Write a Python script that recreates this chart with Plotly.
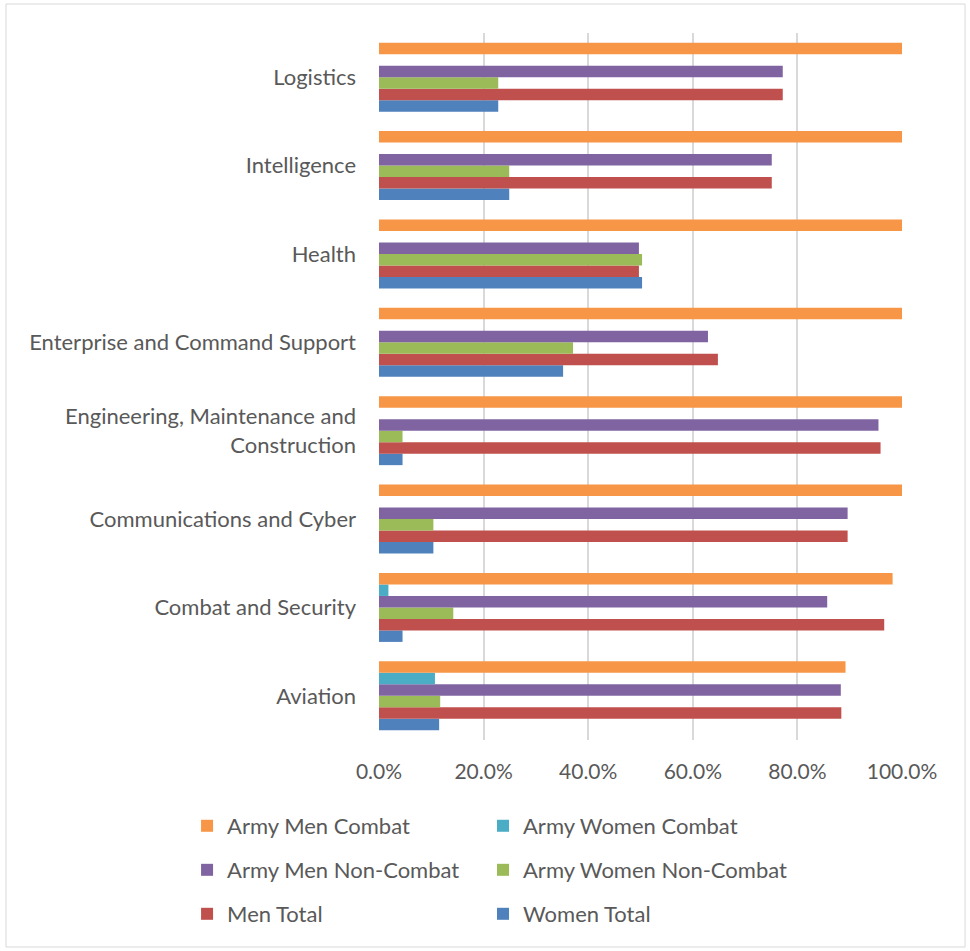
import plotly.graph_objects as go

categories = ["Aviation", "Combat and Security", "Communications and Cyber",
              "Engineering, Maintenance and<br>Construction", "Enterprise and Command Support",
              "Health", "Intelligence", "Logistics"]

women_total = [11.5, 4.5, 10.4, 4.5, 35.2, 50.3, 24.9, 22.8]
men_total = [88.4, 96.6, 89.6, 95.9, 64.8, 49.7, 75.1, 77.2]
army_women_noncombat = [11.7, 14.2, 10.4, 4.5, 37.1, 50.3, 24.9, 22.8]
army_men_noncombat = [88.3, 85.7, 89.6, 95.5, 62.9, 49.7, 75.1, 77.2]
army_women_combat = [10.7, 1.8, 0, 0, 0, 0, 0, 0]
army_men_combat = [89.2, 98.2, 100, 100, 100, 100, 100, 100]

x_ticks = [0, 20, 40, 60, 80, 100]

# (name, values, color, legend id, legend x, legend y)
series = [
    ("Women Total", women_total, "#4F81BD", "legend6", 0.1989, -0.2461),
    ("Men Total", men_total, "#C0504D", "legend5", -0.367, -0.2461),
    ("Army Women Non-Combat", army_women_noncombat, "#9BBB59", "legend4", 0.1989, -0.1839),
    ("Army Men Non-Combat", army_men_noncombat, "#8064A2", "legend3", -0.367, -0.1839),
    ("Army Women Combat", army_women_combat, "#4BACC6", "legend2", 0.1989, -0.1216),
    ("Army Men Combat", army_men_combat, "#F79646", "legend", -0.367, -0.1216),
]

FONT = "Lato"
GREY = "#595959"

fig = go.Figure()
legends = {}
for name, vals, color, lg, lx, ly in series:
    fig.add_trace(go.Bar(
        y=categories, x=vals, name=name, orientation="h",
        marker=dict(color=color, line=dict(width=0)),
        legend=lg, showlegend=True,
    ))
    legends[lg] = dict(
        orientation="h", xanchor="left", yanchor="middle", x=lx, y=ly,
        font=dict(family=FONT, size=22, color=GREY), bgcolor="rgba(0,0,0,0)",
    )

fig.update_layout(
    width=970, height=951,
    showlegend=True,
    margin=dict(l=379, r=68, t=33, b=211),
    barmode="group", bargap=0.22, bargroupgap=0,
    plot_bgcolor="white", paper_bgcolor="white",
    font=dict(family=FONT, size=22, color=GREY),
    xaxis=dict(
        range=[0, 100], tickvals=x_ticks, ticktext=[f"{v:.1f}%" for v in x_ticks],
        showgrid=True, gridcolor="#D9D9D9", gridwidth=1.6, zeroline=False,
        showline=False, ticks="", ticklabelstandoff=17,
        tickfont=dict(family=FONT, size=21, color=GREY),
    ),
    yaxis=dict(
        showgrid=False, zeroline=False, showline=False, ticks="",
        ticklabelstandoff=22,
        tickfont=dict(family=FONT, size=22, color=GREY),
    ),
    shapes=[dict(type="rect", xref="paper", yref="paper",
                 x0=-0.7132, x1=1.1205, y0=-0.2928, y1=1.041,
                 line=dict(color="#D9D9D9", width=1), fillcolor="rgba(0,0,0,0)",
                 layer="below")],
    **legends,
)

fig.write_html("out.html", config={"displayModeBar": False},
               post_script="document.body.style.margin='0';")
